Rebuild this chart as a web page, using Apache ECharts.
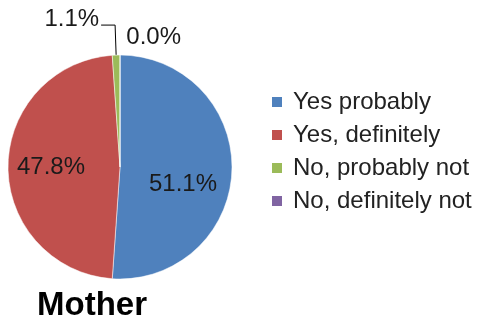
<!DOCTYPE html>
<html>
<head>
<meta charset="utf-8">
<script src="https://cdn.jsdelivr.net/npm/echarts@6/dist/echarts.min.js"></script>
<style>
  html, body { margin: 0; padding: 0; background: #fff; }
  #chart { width: 483px; height: 320px; }
</style>
</head>
<body>
<div id="chart"></div>
<script>
// answers to the question, percent of respondents
const categories = ['Yes probably', 'Yes, definitely', 'No, probably not', 'No, definitely not']
const values = [51.1, 47.8, 1.1, 0.0]
const colors = ['#4F81BD', '#C0504D', '#9BBB59', '#8064A2']
const chartTitle = 'Mother'

const font = '"Liberation Sans", Arial, sans-serif'

// per slice label tweaks (excel puts them a bit off the default spot)
const labelSetup = [
  { position: 'inside', offset: [4, 15] },
  { position: 'inside', offset: [-10, 0] },
  { position: 'outside', offset: [3, -6], line: { show: true, length: 30, length2: 14 } },
  { position: 'outside', offset: [66, -8], line: { show: false, length: 10, length2: 0 } }
]

const chart = echarts.init(document.getElementById('chart'), null, { renderer: 'canvas' })

const option = {
  animation: false,
  backgroundColor: '#fff',
  color: colors,
  title: {
    text: chartTitle,
    left: 37,
    top: 289,
    padding: 0,
    textStyle: {
      fontFamily: font,
      fontSize: 33,
      fontWeight: 'bold',
      color: '#000'
    }
  },
  legend: {
    orient: 'vertical',
    left: 270,
    top: 90,
    padding: 0,
    itemWidth: 12,
    itemHeight: 12,
    itemGap: 9,
    icon: 'rect',
    data: categories,
    textStyle: {
      fontFamily: font,
      fontSize: 24,
      color: '#222',
      padding: [0, 0, 0, 5]
    }
  },
  series: [
    {
      type: 'pie',
      center: [120, 167],
      radius: 112,
      startAngle: 90,
      clockwise: true,
      avoidLabelOverlap: false,
      itemStyle: {
        borderColor: '#fff',
        borderWidth: 0.5
      },
      label: {
        fontFamily: font,
        fontSize: 24,
        color: '#1a1a1a',
        formatter: p => p.value.toFixed(1) + '%'
      },
      labelLine: {
        lineStyle: { color: '#000', width: 1 }
      },
      data: categories.map((name, i) => ({
        name: name,
        value: values[i],
        label: {
          position: labelSetup[i].position,
          offset: labelSetup[i].offset
        },
        labelLine: labelSetup[i].line || { show: false }
      }))
    }
  ]
}

chart.setOption(option)
</script>
</body>
</html>
